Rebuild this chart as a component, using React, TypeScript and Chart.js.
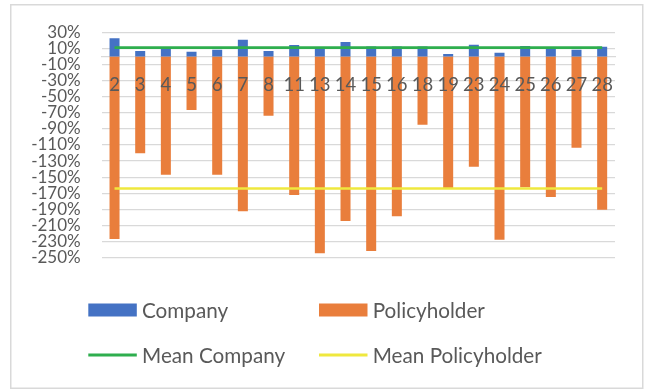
import React, { useEffect, useRef } from "react";
import { Chart, registerables } from "chart.js";

Chart.register(...registerables);

// Category labels (policy ids) along the horizontal axis
const categories = ["2", "3", "4", "5", "6", "7", "8", "11", "13", "14", "15", "16", "18", "19", "23", "24", "25", "26", "27", "28"];

// Company gain per policy (%)
const company = [22.5, 6.8, 11, 5.9, 8.4, 20.8, 6.8, 14.2, 10.5, 18, 12.5, 12.5, 12.5, 3, 14.6, 4.7, 13, 11.7, 8.4, 12.1];

// Policyholder gain per policy (%)
const policyholder = [-226.8, -120.4, -146.9, -66.5, -146.9, -192.4, -73.6, -172.1, -244.5, -204.4, -241.7, -198.6, -84.7, -163.4, -136.9, -227.6, -162.6, -174.6, -113.3, -190.4];

// Mean values shown as horizontal reference lines
const meanCompany = 11;
const meanPolicyholder = -164;

// Y axis range and tick step
const yMin = -250;
const yMax = 30;
const yStep = 20;

const TEXT = "#595959";
const GRID = "#d9d9d9";
const FONT = "Lato, 'Liberation Sans', Arial, sans-serif";

// Two-column legend plus outer frame, drawn on the canvas
const legendAndFrame = {
  id: "legendAndFrame",
  afterDraw(chart: any) {
    const ctx = chart.ctx as CanvasRenderingContext2D;
    const ds = chart.data.datasets;
    ctx.save();
    ctx.strokeStyle = GRID;
    ctx.lineWidth = 1.5;
    ctx.strokeRect(10.75, 4.75, 632, 383.5);

    ctx.font = `20.7px ${FONT}`;
    ctx.fillStyle = TEXT;
    ctx.textBaseline = "middle";
    ctx.textAlign = "left";

    const cols = [88.3, 319];
    const textGap = 53.7;
    const rows = [310, 355];
    ds.forEach((d: any, k: number) => {
      const x = cols[k % 2];
      const y = rows[Math.floor(k / 2)];
      if (d.type === "line") {
        ctx.strokeStyle = d.borderColor;
        ctx.lineWidth = 3;
        ctx.beginPath();
        ctx.moveTo(x, y);
        ctx.lineTo(x + 48.5, y);
        ctx.stroke();
      } else {
        ctx.fillStyle = d.backgroundColor;
        ctx.fillRect(x, y - 6.5, 48.5, 13);
      }
      ctx.fillStyle = TEXT;
      ctx.fillText(d.label, x + textGap, y + 1);
    });
    ctx.restore();
  },
};

export default function App() {
  const canvasRef = useRef<HTMLCanvasElement>(null);

  useEffect(() => {
    const canvas = canvasRef.current;
    if (!canvas) return;
    const chart = new Chart(canvas, {
      data: {
        labels: categories,
        datasets: [
          {
            type: "bar",
            label: "Company",
            data: company,
            backgroundColor: "#4472C4",
            categoryPercentage: 1,
            barPercentage: 0.39,
            order: 2,
          },
          {
            type: "bar",
            label: "Policyholder",
            data: policyholder,
            backgroundColor: "#E97E3C",
            categoryPercentage: 1,
            barPercentage: 0.39,
            order: 2,
          },
          {
            type: "line",
            label: "Mean Company",
            data: categories.map(() => meanCompany),
            borderColor: "#2EAE4E",
            borderWidth: 2.6,
            pointRadius: 0,
            tension: 0,
            order: 1,
          },
          {
            type: "line",
            label: "Mean Policyholder",
            data: categories.map(() => meanPolicyholder),
            borderColor: "#EFE83E",
            borderWidth: 2.6,
            pointRadius: 0,
            tension: 0,
            order: 1,
          },
        ] as any,
      },
      options: {
        animation: false,
        responsive: true,
        maintainAspectRatio: false,
        layout: { padding: { top: 32.3, bottom: 131.3, left: 0, right: 30 } },
        plugins: {
          legend: { display: false },
          tooltip: { enabled: false },
          title: { display: false },
        },
        scales: {
          x: {
            type: "category",
            stacked: true,
            position: { y: 0 } as any,
            grid: { display: false, drawTicks: false },
            border: { display: true, color: GRID, width: 1.3 },
            ticks: {
              z: 1,
              autoSkip: false,
              maxRotation: 0,
              minRotation: 0,
              padding: 17,
              color: TEXT,
              font: { family: FONT, size: 18.5 },
            },
          },
          y: {
            type: "linear",
            stacked: false,
            min: yMin,
            max: yMax,
            afterFit: (s: any) => {
              s.width = 101.7;
            },
            grid: { color: GRID, lineWidth: 1.3, drawTicks: false },
            border: { display: false },
            ticks: {
              stepSize: yStep,
              autoSkip: false,
              padding: 21,
              color: TEXT,
              font: { family: FONT, size: 17 },
              callback: (v: any) => `${v}%`,
            },
          },
        },
      },
      plugins: [legendAndFrame],
    });
    return () => chart.destroy();
  }, []);

  return (
    <div style={{ position: "fixed", left: 0, top: 0, width: 645, height: 389, background: "#fff" }}>
      <canvas ref={canvasRef} />
    </div>
  );
}
